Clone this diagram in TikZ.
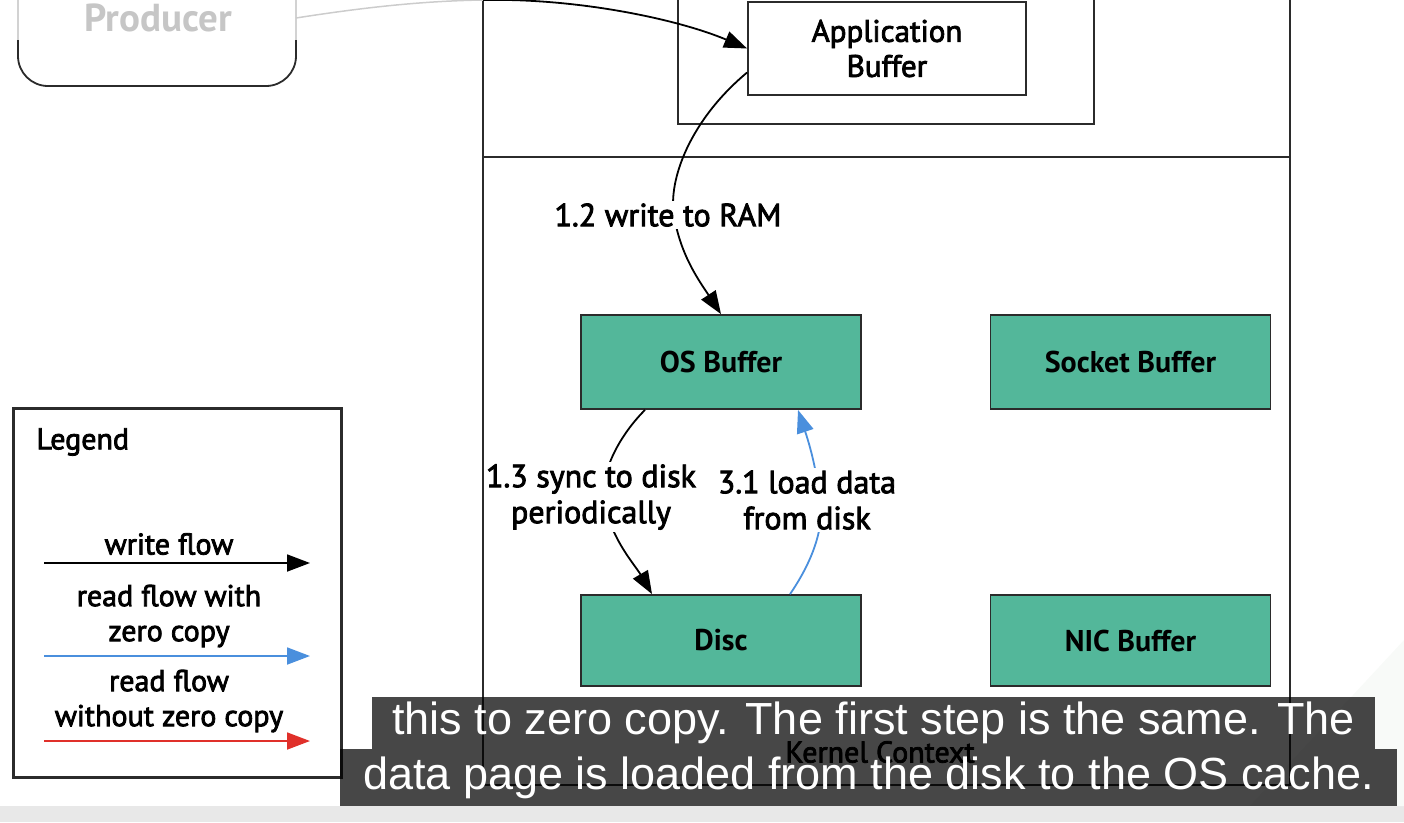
\documentclass[tikz,border=0pt]{standalone}
\usepackage{fontspec}
\setmainfont{PT Sans}
\newfontfamily\medfont{PT Sans}[FakeBold=2.6]
\newfontfamily\subfont{Liberation Sans}
\usetikzlibrary{arrows.meta,calc}
\definecolor{tealbox}{HTML}{53B79A}
\definecolor{flowblue}{HTML}{4A8FDD}
\definecolor{flowred}{HTML}{E0302A}
\definecolor{edge}{HTML}{2B2B2B}
\begin{document}
\begin{tikzpicture}[x=1pt,y=-1pt,
  frame/.style={draw=edge,line width=1.8pt},
  bufbox/.style={draw=edge,line width=1.8pt,fill=tealbox,minimum width=280pt,minimum height=94pt,
    font=\fontsize{30}{34}\selectfont\bfseries},
  appbox/.style={draw=edge,line width=1.8pt,fill=white,minimum width=278pt,minimum height=93pt,
    align=center,font=\medfont\fontsize{31}{35}\selectfont},
  lbl/.style={fill=white,inner sep=2pt,align=center,font=\medfont\fontsize{32}{36}\selectfont},
  legtxt/.style={align=center,font=\medfont\fontsize{30}{35}\selectfont},
  tip/.style={-{Triangle[length=23pt,width=17pt]}},
  wflow/.style={draw=black,line width=1.8pt,tip},
  bflow/.style={draw=flowblue,line width=1.8pt,tip},
  rflow/.style={draw=flowred,line width=1.8pt,tip},
  subbox/.style={fill=black,fill opacity=0.72,text opacity=1,text=white,inner sep=0pt,
    font=\subfont\fontsize{45}{50}\selectfont}
]
\useasboundingbox (0,0) rectangle (1404,822);
% background details
\fill[gray!18] (0,806) rectangle (1404,822);
\fill[green!15!gray!5] (1250,806) -- (1404,640) -- (1404,806) -- cycle;

% producer box (cut at top)
\draw[gray!35,line width=1.8pt] (18,-5) -- (18,40);
\draw[gray!35,line width=1.8pt] (296,-5) -- (296,40);
\draw[edge,line width=1.8pt,rounded corners=30pt] (18,40) -- (18,86) -- (296,86) -- (296,40);
\node[text=gray!45,font=\fontsize{39}{42}\selectfont\bfseries] (prod) at (158,18) {Producer};
\coordinate (prodE) at (296,18);
\coordinate (prodM) at (483,0);

% outer containers
\draw[frame] (483,-10) -- (483,785) -- (1290,785) -- (1290,-10);
\draw[frame] (483,157) -- (1290,157);
\draw[frame] (678,-10) -- (678,124) -- (1094,124) -- (1094,-10);

% nodes
\node[appbox] (app) at (887,48.5) {Application\\Buffer};
\node[bufbox] (os) at (721,362) {OS Buffer};
\node[bufbox] (sock) at (1130.5,362) {Socket Buffer};
\node[bufbox,minimum height=91pt] (disc) at (721,640.5) {Disc};
\node[bufbox,minimum height=91pt] (nic) at (1130.5,640.5) {NIC Buffer};

% producer to application buffer
\draw[gray!40,line width=1.5pt] (prodE) .. controls (360,8) and (420,1) .. (prodM);
\draw[wflow] (prodM) .. controls (580,-2) and (680,20) .. (app.west);

% 1.2 write to RAM
\draw[wflow] ([yshift=-24pt]app.west) .. controls (690,120) and (668,180) .. (674,215)
  .. controls (680,255) and (700,282) .. (os.north);
\node[lbl] (l12) at (668,215) {1.2 write to RAM};

% 1.3 sync to disk
\draw[wflow] ([xshift=-76pt]os.south) .. controls (615,440) and (598,480) .. (605,505)
  .. controls (612,540) and (635,565) .. ([xshift=-69pt]disc.north);
\node[lbl] (l13) at (591,497) {1.3 sync to disk\\periodically};

% 3.1 load data from disk
\draw[bflow] ([xshift=69pt]disc.north) .. controls (810,565) and (825,530) .. (820,500)
  .. controls (816,465) and (808,440) .. ([xshift=77pt]os.south);
\node[lbl] (l31) at (807,500) {3.1 load data\\from disk};

% legend
\node[draw=edge,line width=3pt,minimum width=328pt,minimum height=369pt] (legend) at (177,592.5) {};
\node[anchor=west,font=\medfont\fontsize{30}{34}\selectfont] (legtitle) at (33,442) {Legend};
\node[legtxt] (lw) at (169,544) {write flow};
\coordinate (lwa) at (44,563); \coordinate (lwb) at (310,563);
\draw[wflow] (lwa) -- (lwb);
\node[legtxt] (lb) at (169,616) {read flow with\\zero copy};
\coordinate (lba) at (44,656); \coordinate (lbb) at (310,656);
\draw[bflow] (lba) -- (lbb);
\node[legtxt] (lr) at (169,701) {read flow\\without zero copy};
\coordinate (lra) at (44,741); \coordinate (lrb) at (310,741);
\draw[rflow] (lra) -- (lrb);

% kernel context label
\node[font=\medfont\fontsize{30}{34}\selectfont] (kc) at (880,752) {Kernel Context};

% subtitles
\node[subbox,minimum width=1003pt,minimum height=52pt] (sub1) at (873.5,723) {this to zero copy. The first step is the same. The};
\node[subbox,minimum width=1057pt,minimum height=57pt] (sub2) at (868.5,777.5) {data page is loaded from the disk to the OS cache.};
\end{tikzpicture}
\end{document}
